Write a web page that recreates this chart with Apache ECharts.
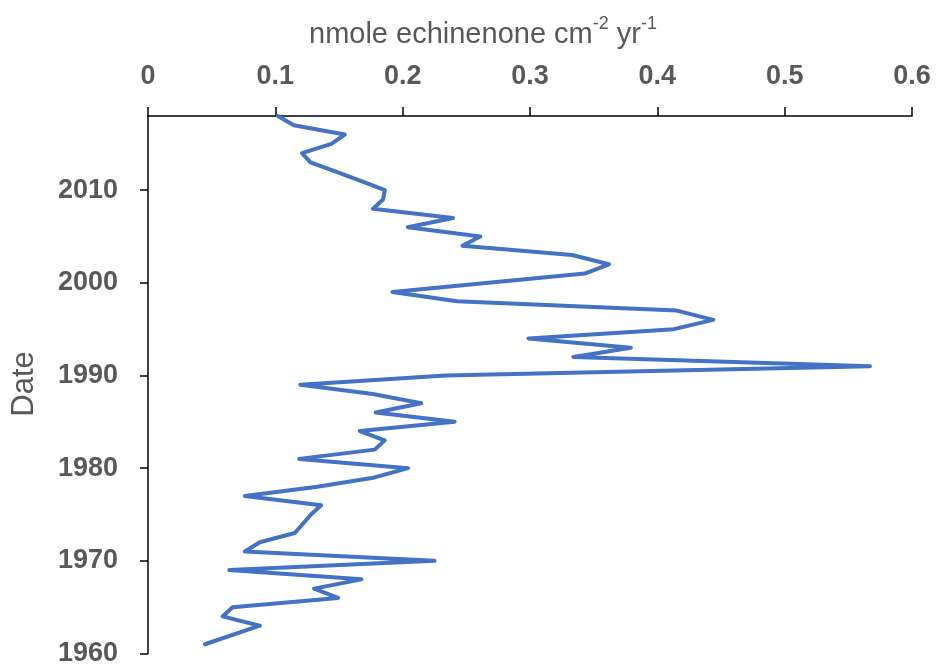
<!DOCTYPE html>
<html>
<head>
<meta charset="utf-8">
<script src="https://cdn.jsdelivr.net/npm/echarts@6/dist/echarts.min.js"></script>
<style>html,body{margin:0;padding:0;background:#fff}#c{width:940px;height:671px}</style>
</head>
<body>
<div id="c"></div>
<script>
const years = [2018,2017,2016,2015,2014,2013,2012,2011,2010,2009,2008,2007,2006,2005,2004,2003,2002,2001,
  1999,1998,1997,1996,1995,1994,1993,1992,1991,1990,1989,1988,1987,1986,1985,1984,1983,1982,1981,1980,
  1979,1978,1977,1976,1975,1973,1972,1971,1970,1969,1968,1967,1966,1965,1964,1963,1961];
const echinenone = [0.102,0.1145,0.1545,0.144,0.121,0.1276,0.1475,0.167,0.186,0.1846,0.1767,0.2395,0.204,0.261,0.247,0.333,0.362,0.343,
  0.192,0.2427,0.4153,0.4439,0.413,0.2988,0.3792,0.3341,0.567,0.2337,0.1196,0.1765,0.2146,0.1788,0.2408,0.1663,0.1859,0.178,0.1187,0.2042,
  0.178,0.133,0.0761,0.136,0.128,0.1153,0.0878,0.0761,0.225,0.0638,0.1676,0.1304,0.1493,0.0664,0.0586,0.0878,0.0447];
const xTicks = ['0','0.1','0.2','0.3','0.4','0.5','0.6'];
const yTicks = [1960,1970,1980,1990,2000,2010];

const chart = echarts.init(document.getElementById('c'), null, {renderer:'canvas'});
const font = 'Liberation Sans';
const grey = '#595959';
chart.setOption({
  animation:false,
  backgroundColor:'#fff',
  title:{
    left:304, top:10,
    text:'{a|nmole echinenone cm}{s|-2}{a| yr}{s|-1}',
    textStyle:{fontWeight:'normal',rich:{
      a:{fontFamily:font,fontSize:29,fontWeight:'normal',color:grey,verticalAlign:'bottom',lineHeight:34},
      s:{fontFamily:font,fontSize:18,fontWeight:'normal',color:grey,verticalAlign:'top',lineHeight:34,padding:[0,0,12,0]}
    }}
  },
  graphic:[{type:'text',x:24,y:384,rotation:Math.PI/2,
    style:{text:'Date',fontFamily:font,fontSize:31,fill:grey,align:'center',verticalAlign:'middle'}}],
  grid:{left:148,right:28,top:116,bottom:17.5,containLabel:false},
  xAxis:{type:'value',position:'top',min:0,max:0.6,interval:0.1,
    axisLine:{show:true,lineStyle:{color:'#000',width:1.5}},
    axisTick:{show:true,length:9,lineStyle:{color:'#000',width:1.5}},
    splitLine:{show:false},
    axisLabel:{margin:26,fontFamily:font,fontSize:27,fontWeight:'bold',color:grey,
      formatter:(v)=>xTicks[Math.round(v*10)]}
  },
  yAxis:{type:'value',min:1960,max:2018,interval:10,
    axisLine:{show:true,lineStyle:{color:'#000',width:1.5}},
    axisTick:{show:true,length:8,lineStyle:{color:'#000',width:1.5}},
    splitLine:{show:false},
    axisLabel:{margin:30,fontFamily:font,fontSize:27,fontWeight:'bold',color:grey,showMaxLabel:false,
      formatter:(v)=>yTicks.includes(v)?String(v):''}
  },
  series:[{type:'line',showSymbol:false,symbol:'none',
    data:years.map((y,i)=>[echinenone[i],y]),
    lineStyle:{color:'#4472C4',width:4,join:'round',cap:'round'}
  }]
});
</script>
</body>
</html>
